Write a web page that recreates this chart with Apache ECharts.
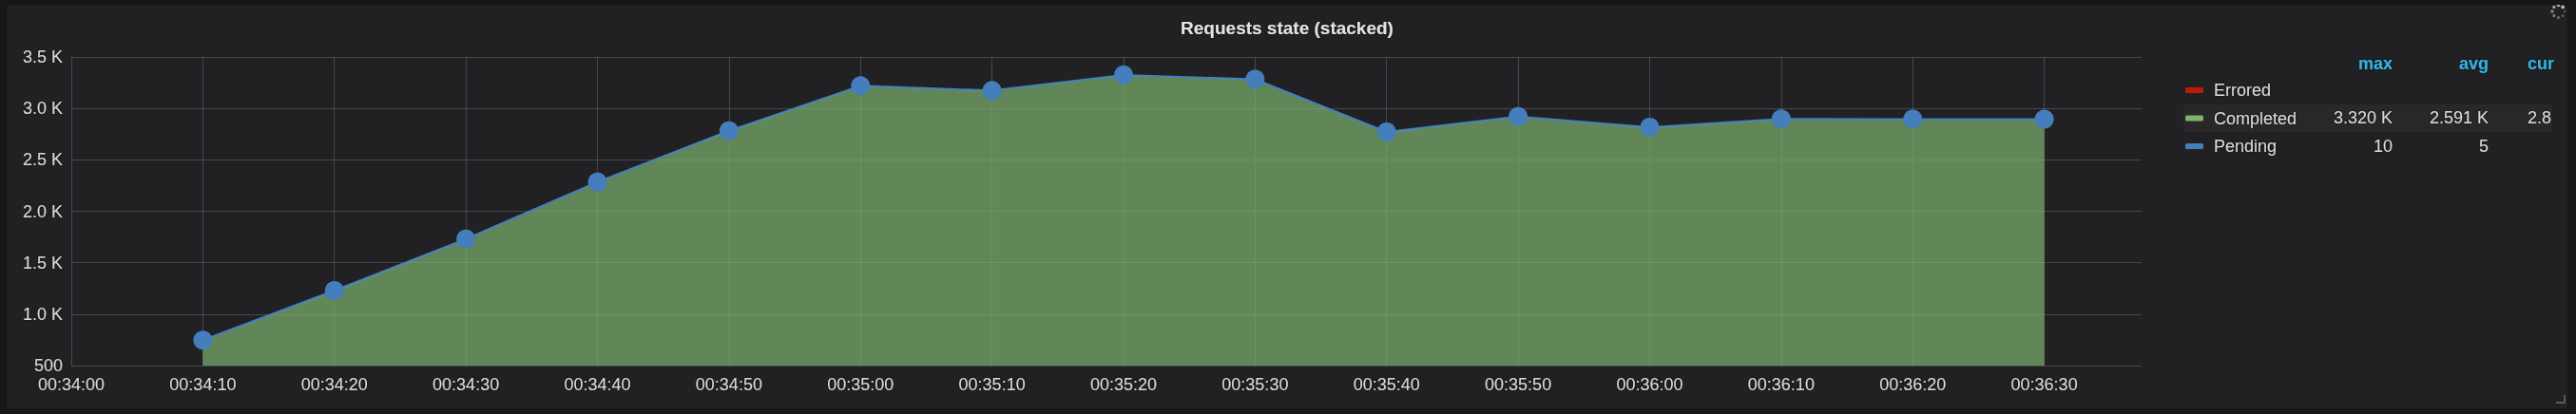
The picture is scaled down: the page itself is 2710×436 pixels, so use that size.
<!DOCTYPE html>
<html>
<head>
<meta charset="utf-8">
<script src="https://cdn.jsdelivr.net/npm/echarts@6/dist/echarts.min.js"></script>
<style>
  html, body { margin: 0; padding: 0; background: #161719; width: 2710px; height: 436px; overflow: hidden; }
  #chart { position: absolute; left: 7px; top: 5px; width: 2694px; height: 425px; border-radius: 3px; overflow: hidden; }
</style>
</head>
<body>
<div id="chart"></div>
<script>
// ---- data ----
const times = ['00:34:10','00:34:20','00:34:30','00:34:40','00:34:50','00:35:00','00:35:10','00:35:20',
               '00:35:30','00:35:40','00:35:50','00:36:00','00:36:10','00:36:20','00:36:30'];
const completed = [744, 1219, 1726, 2282, 2775, 3216, 3168, 3320, 3280, 2764, 2917, 2811, 2892, 2892, 2892];
const pending   = [3, 10, 5, 2, 8, 4, 6, 5, 3, 7, 4, 6, 5, 4, 3];
const errored   = [];
const xTickLabels = ['00:34:00','00:34:10','00:34:20','00:34:30','00:34:40','00:34:50','00:35:00','00:35:10',
                     '00:35:20','00:35:30','00:35:40','00:35:50','00:36:00','00:36:10','00:36:20','00:36:30'];
const yTickLabels = ['500','1.0 K','1.5 K','2.0 K','2.5 K','3.0 K','3.5 K'];
const seriesNames = ['Errored','Completed','Pending'];
const statHeaders = ['max','avg','cur'];
const statCompleted = ['3.320 K','2.591 K','2.8'];
const statPending = ['10','5',''];

// ---- helpers ----
const T0 = 34 * 60; // 00:34:00
function toSec(t) { const p = t.split(':').map(Number); return p[0]*3600 + p[1]*60 + p[2] - T0; }
const xs = times.map(toSec);

const FONT = '"Helvetica Neue", Helvetica, "Liberation Sans", Arial, sans-serif';
const TXT = '#d8d9da';
const GRIDC = 'rgba(125,125,130,0.42)';
const shadow = { textShadowColor: 'rgba(0,0,0,0.7)', textShadowBlur: 2 };

const chart = echarts.init(document.getElementById('chart'), null, { renderer: 'svg' });

// spinner dots (decoration)
const spinner = [];
for (let i = 0; i < 8; i++) {
  const a = -Math.PI / 2 + i * Math.PI / 4;
  spinner.push({
    type: 'circle', silent: true,
    shape: { cx: 2684.5 + 6.5 * Math.cos(a), cy: 7 + 6.5 * Math.sin(a), r: 1.2 + 0.1 * ((i + 6) % 8) },
    style: { fill: 'rgba(200,200,200,' + (0.35 + 0.08 * ((i + 6) % 8)) + ')' }
  });
}

function statText(x, y, text, align, bold, color) {
  return {
    type: 'text', x: x, y: y, silent: true,
    style: {
      text: text, fill: color || TXT, font: (bold ? 'bold ' : '') + '18px ' + FONT,
      textAlign: align, textVerticalAlign: 'middle',
      textShadowColor: 'rgba(0,0,0,0.6)', textShadowBlur: 2
    }
  };
}

// data items are [value, time] so that the stacked dimension is the value (y)
const option = {
  backgroundColor: '#212124',
  animation: false,
  textStyle: { fontFamily: FONT },
  title: {
    text: 'Requests state (stacked)',
    left: 'center', top: 15, padding: 0,
    textStyle: { color: '#e3e3e3', fontSize: 19, fontWeight: 'bold', fontFamily: FONT, ...shadow }
  },
  grid: { left: 68, right: 448, top: 55, bottom: 45, containLabel: false },
  xAxis: {
    type: 'value', min: 0, max: 157.4, interval: 10,
    axisLine: { show: false }, axisTick: { show: false },
    axisLabel: {
      color: TXT, fontSize: 18, margin: 11, fontFamily: FONT, showMaxLabel: false, ...shadow,
      formatter: v => { const i = Math.round(v / 10); return (Math.abs(v - i * 10) < 1e-6 && xTickLabels[i]) ? xTickLabels[i] : ''; }
    },
    splitLine: { show: true, showMaxLine: false, lineStyle: { color: GRIDC, width: 1 } }
  },
  yAxis: {
    type: 'value', min: 500, max: 3500, interval: 500,
    axisLine: { show: false }, axisTick: { show: false },
    axisLabel: {
      color: TXT, fontSize: 18, margin: 9, fontFamily: FONT, ...shadow,
      formatter: v => yTickLabels[Math.round((v - 500) / 500)] || ''
    },
    splitLine: { show: true, lineStyle: { color: GRIDC, width: 1 } }
  },
  legend: {
    orient: 'vertical', left: 2287, top: 75,
    itemWidth: 19, itemHeight: 6, itemGap: 9.5, icon: 'roundRect',
    itemStyle: { borderWidth: 0 },
    selectedMode: false,
    textStyle: { color: TXT, fontSize: 18, lineHeight: 20, padding: [0, 0, 0, 6], fontFamily: FONT, ...shadow },
    data: seriesNames
  },
  graphic: [
    { type: 'rect', silent: true, z: -1, shape: { x: 2290, y: 105, width: 388, height: 29 }, style: { fill: '#28282b' } },
    statText(2510, 62, statHeaders[0], 'right', true, '#33b5e5'),
    statText(2611, 62, statHeaders[1], 'right', true, '#33b5e5'),
    statText(2652, 62, statHeaders[2], 'left', true, '#33b5e5'),
    statText(2510, 119, statCompleted[0], 'right'),
    statText(2611, 119, statCompleted[1], 'right'),
    statText(2652, 119, statCompleted[2], 'left'),
    statText(2510, 148.5, statPending[0], 'right'),
    statText(2611, 148.5, statPending[1], 'right'),
    { type: 'polyline', silent: true, shape: { points: [[2682, 419], [2691, 419], [2691, 411]] }, style: { stroke: '#5a5a5e', lineWidth: 2, fill: null } },
    ...spinner
  ],
  series: [
    {
      name: 'Errored', type: 'line', color: '#BF1B00', symbol: 'none',
      encode: { x: 1, y: 0 },
      data: errored
    },
    {
      name: 'Completed', type: 'line', stack: 'total', color: '#7EB26D',
      symbol: 'none', lineStyle: { width: 1, color: '#7EB26D' },
      areaStyle: { color: '#7EB26D', opacity: 0.7 },
      encode: { x: 1, y: 0 },
      data: completed.map((v, i) => [v, xs[i]])
    },
    {
      name: 'Pending', type: 'line', stack: 'total', color: '#447EBC',
      symbol: 'circle', symbolSize: 20, showAllSymbol: true,
      itemStyle: { color: '#447EBC', borderWidth: 0 },
      lineStyle: { width: 2, color: '#447EBC' },
      areaStyle: { color: '#447EBC', opacity: 0.7 },
      encode: { x: 1, y: 0 },
      data: pending.map((v, i) => [v, xs[i]])
    }
  ]
};
chart.setOption(option);
</script>
</body>
</html>
